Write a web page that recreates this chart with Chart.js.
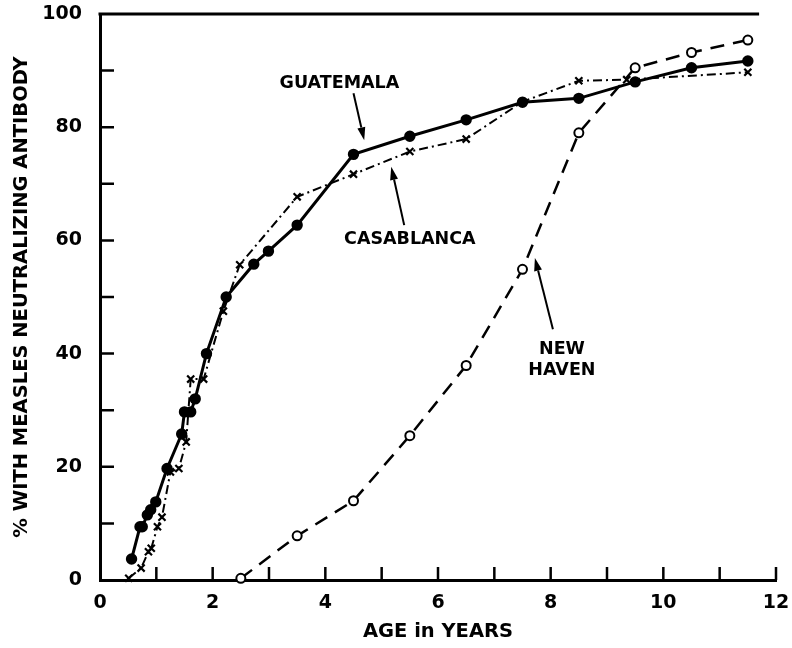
<!DOCTYPE html>
<html>
<head>
<meta charset="utf-8">
<script src="https://cdn.jsdelivr.net/npm/chart.js@4"></script>
<style>
  html, body { margin: 0; padding: 0; background: #fff; }
  #wrap { width: 792px; height: 648px; }
</style>
</head>
<body>
<div id="wrap"><canvas id="measlesChart" width="792" height="648"></canvas></div>
<script>
// Guatemala (filled circles)
const guatAge = [0.56, 0.71, 0.75, 0.84, 0.9, 0.99, 1.19, 1.45, 1.5, 1.61, 1.69, 1.89, 2.24, 2.73, 2.99, 3.5, 4.5, 5.5, 6.5, 7.5, 8.5, 9.5, 10.5, 11.5];
const guatPct = [3.7, 9.4, 9.4, 11.5, 12.4, 13.8, 19.7, 25.8, 29.7, 29.7, 32, 40, 50, 55.8, 58.1, 62.7, 75.2, 78.4, 81.3, 84.4, 85.1, 88.0, 90.5, 91.7];

// Casablanca (x marks)
const casaAge = [0.51, 0.73, 0.86, 0.91, 1.02, 1.1, 1.25, 1.4, 1.53, 1.61, 1.84, 2.19, 2.48, 3.5, 4.5, 5.5, 6.5, 7.5, 8.5, 9.35, 11.5];
const casaPct = [0.3, 2.1, 5.0, 5.6, 9.4, 11.1, 19.1, 19.7, 24.4, 35.5, 35.5, 47.5, 55.7, 67.7, 71.7, 75.7, 77.9, 84.5, 88.2, 88.4, 89.7];

// New Haven (open circles)
const nhAge = [2.5, 3.5, 4.5, 5.5, 6.5, 7.5, 8.5, 9.5, 10.5, 11.5];
const nhPct = [0.3, 7.8, 14.0, 25.5, 37.9, 54.9, 79.0, 90.5, 93.2, 95.4];

const xTickLabels = [0, 2, 4, 6, 8, 10, 12];
const yTickLabels = [0, 20, 40, 60, 80, 100];

function toPoints(xs, ys) {
    return xs.map((x, i) => ({ x: x, y: ys[i] }));
}

// Labels with arrows, placed in data units
const callouts = [
    { lines: ['GUATEMALA'], at: [4.25, 87.8], from: [4.5, 86.0], to: [4.69, 77.7] },
    { lines: ['CASABLANCA'], at: [5.5, 60.2], from: [5.4, 62.7], to: [5.17, 73.0] },
    { lines: ['NEW', 'HAVEN'], at: [8.2, 40.8], from: [8.04, 44.3], to: [7.72, 56.9] }
];

const FONT = '"DejaVu Sans", sans-serif';

const decorPlugin = {
    id: 'decor',
    afterDraw(chart) {
        const ctx = chart.ctx;
        const xs = chart.scales.x;
        const ys = chart.scales.y;
        const area = chart.chartArea;
        ctx.save();
        ctx.strokeStyle = '#000';
        ctx.fillStyle = '#000';

        // inward ticks
        ctx.lineWidth = 2.5;
        ctx.beginPath();
        xs.ticks.forEach(t => {
            if (t.value <= 0) return;
            const px = xs.getPixelForValue(t.value);
            ctx.moveTo(px, area.bottom);
            ctx.lineTo(px, area.bottom - 13);
        });
        ys.ticks.forEach(t => {
            if (t.value <= 0 || t.value >= 100) return;
            const py = ys.getPixelForValue(t.value);
            ctx.moveTo(area.left, py);
            ctx.lineTo(area.left + 14, py);
        });
        ctx.stroke();

        // top frame line
        ctx.lineWidth = 3;
        ctx.beginPath();
        ctx.moveTo(area.left - 1.5, area.top);
        ctx.lineTo(xs.getPixelForValue(11.7), area.top);
        ctx.stroke();

        // callouts
        ctx.font = 'bold 17.5px ' + FONT;
        ctx.textAlign = 'center';
        ctx.textBaseline = 'middle';
        callouts.forEach(c => {
            const cx = xs.getPixelForValue(c.at[0]);
            const cy = ys.getPixelForValue(c.at[1]);
            c.lines.forEach((s, i) => ctx.fillText(s, cx, cy + i * 21));

            const x1 = xs.getPixelForValue(c.from[0]);
            const y1 = ys.getPixelForValue(c.from[1]);
            const x2 = xs.getPixelForValue(c.to[0]);
            const y2 = ys.getPixelForValue(c.to[1]);
            const ang = Math.atan2(y2 - y1, x2 - x1);
            const headLen = 13, headW = 4;
            ctx.lineWidth = 2;
            ctx.beginPath();
            ctx.moveTo(x1, y1);
            ctx.lineTo(x2 - headLen * Math.cos(ang), y2 - headLen * Math.sin(ang));
            ctx.stroke();
            ctx.beginPath();
            ctx.moveTo(x2, y2);
            ctx.lineTo(x2 - headLen * Math.cos(ang) + headW * Math.sin(ang),
                       y2 - headLen * Math.sin(ang) - headW * Math.cos(ang));
            ctx.lineTo(x2 - headLen * Math.cos(ang) - headW * Math.sin(ang),
                       y2 - headLen * Math.sin(ang) + headW * Math.cos(ang));
            ctx.closePath();
            ctx.fill();
        });
        ctx.restore();
    }
};

const ctx = document.getElementById('measlesChart').getContext('2d');
new Chart(ctx, {
    type: 'line',
    data: {
        datasets: [
            {
                label: 'New Haven',
                data: toPoints(nhAge, nhPct),
                borderColor: '#000',
                borderWidth: 2.5,
                borderDash: [14, 9],
                pointStyle: 'circle',
                pointRadius: 4.5,
                pointBorderWidth: 2,
                pointBackgroundColor: '#fff',
                pointBorderColor: '#000',
                tension: 0,
                clip: false
            },
            {
                label: 'Casablanca',
                data: toPoints(casaAge, casaPct),
                borderColor: '#000',
                borderWidth: 2,
                borderDash: [9, 4, 2, 4],
                pointStyle: 'crossRot',
                pointRadius: 5,
                pointBorderWidth: 2.2,
                pointBorderColor: '#000',
                tension: 0,
                clip: false
            },
            {
                label: 'Guatemala',
                data: toPoints(guatAge, guatPct),
                borderColor: '#000',
                borderWidth: 3,
                pointStyle: 'circle',
                pointRadius: 4.2,
                pointBackgroundColor: '#000',
                pointBorderColor: '#000',
                tension: 0,
                clip: false
            }
        ]
    },
    options: {
        responsive: false,
        animation: false,
        events: [],
        layout: { padding: { top: 14, right: 16, left: 0, bottom: 0 } },
        plugins: {
            legend: { display: false },
            tooltip: { enabled: false }
        },
        scales: {
            x: {
                type: 'linear',
                min: 0,
                max: 12,
                afterFit: (scale) => {
                    scale.height = 68;
                    scale.paddingLeft = 0;
                    scale.paddingRight = 0;
                },
                grid: { drawOnChartArea: false, drawTicks: false },
                border: { display: true, color: '#000', width: 3 },
                ticks: {
                    stepSize: 1,
                    padding: 12,
                    color: '#000',
                    font: { family: FONT, size: 19, weight: 'bold' },
                    callback: (v) => xTickLabels.includes(v) ? String(v) : ''
                },
                title: {
                    display: true,
                    text: 'AGE in YEARS',
                    color: '#000',
                    padding: { top: 0, bottom: 4 },
                    font: { family: FONT, size: 19.5, weight: 'bold' }
                }
            },
            y: {
                min: 0,
                max: 100,
                afterFit: (scale) => {
                    scale.width = 100;
                    scale.paddingTop = 0;
                    scale.paddingBottom = 0;
                },
                grid: { drawOnChartArea: false, drawTicks: false },
                border: { display: true, color: '#000', width: 3 },
                ticks: {
                    stepSize: 10,
                    padding: 18,
                    color: '#000',
                    font: { family: FONT, size: 19, weight: 'bold' },
                    callback: (v) => yTickLabels.includes(v) ? String(v) : ''
                },
                title: {
                    display: true,
                    text: '% WITH MEASLES NEUTRALIZING ANTIBODY',
                    color: '#000',
                    padding: { top: 10, bottom: 0 },
                    font: { family: FONT, size: 19.5, weight: 'bold' }
                }
            }
        }
    },
    plugins: [decorPlugin]
});
</script>
</body>
</html>
